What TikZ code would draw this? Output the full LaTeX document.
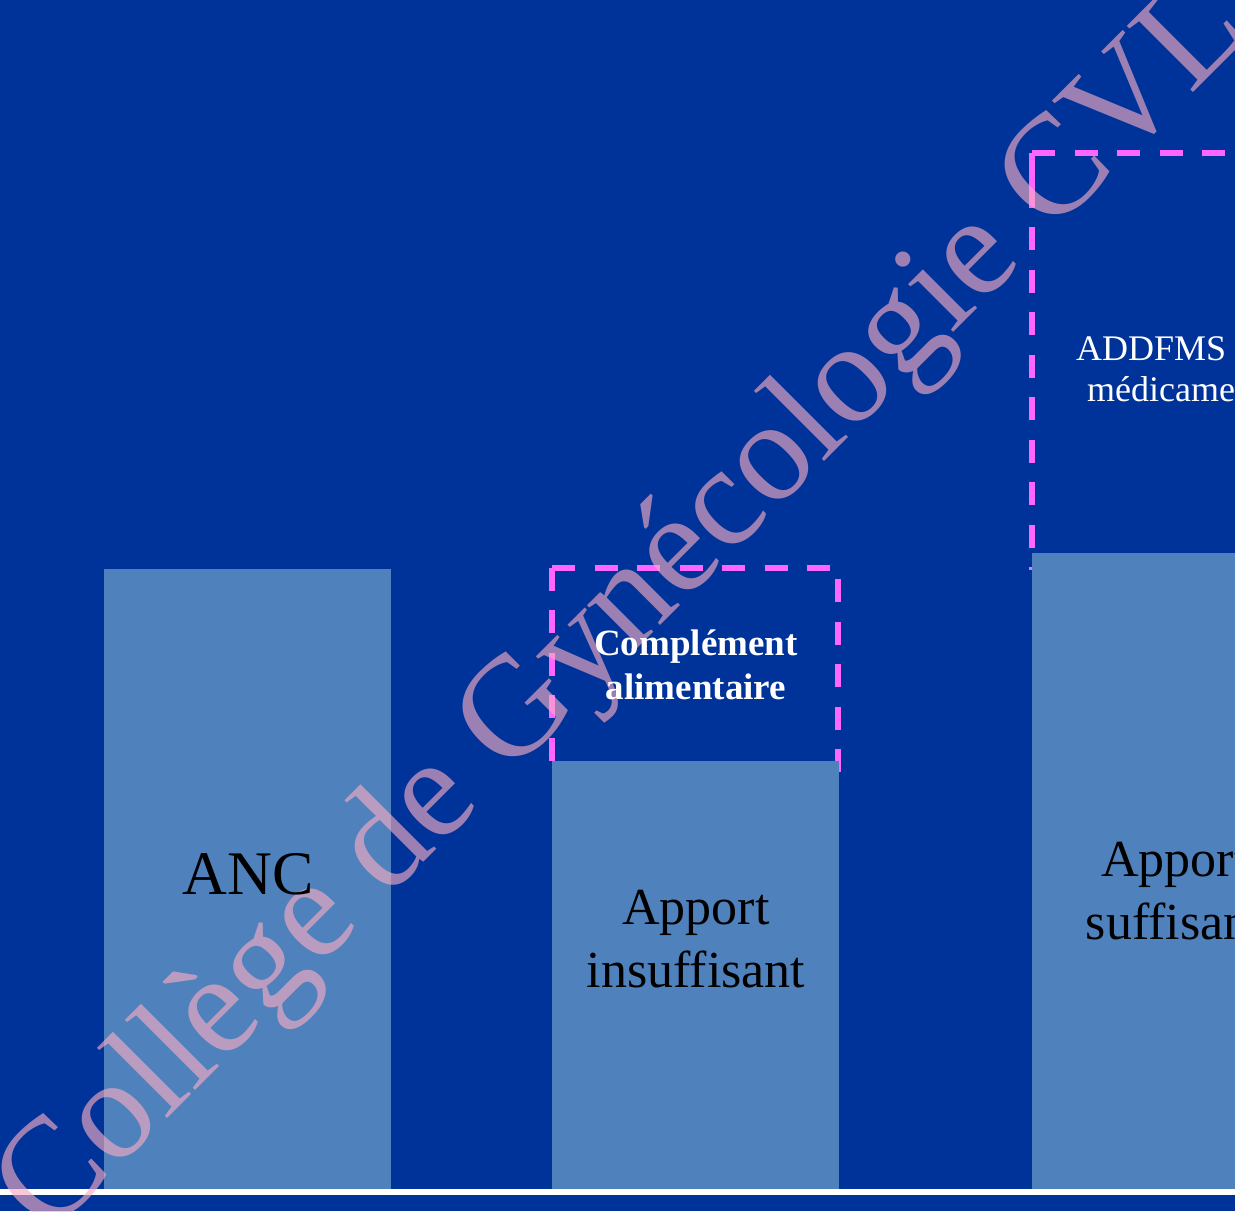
\documentclass[tikz,border=0pt]{standalone}
\usepackage{fontspec}
\setmainfont{Liberation Serif}
\definecolor{bgblue}{RGB}{0,51,153}
\definecolor{barblue}{RGB}{79,129,189}
\definecolor{dashpink}{RGB}{255,102,255}
\definecolor{wmpink}{RGB}{247,172,195}
\begin{document}
\begin{tikzpicture}[x=1pt,y=1pt,
  bar/.style={fill=barblue, draw=none},
  dbox/.style={draw=dashpink, line width=6pt, dash pattern=on 23pt off 19.5pt},
  dsolid/.style={draw=dashpink, line width=6pt},
  barlbl/.style={inner sep=0pt, anchor=base, text=black, font=\fontsize{52}{63}\selectfont},
  anclbl/.style={inner sep=0pt, anchor=base, text=black, font=\fontsize{62}{70}\selectfont},
  boldlbl/.style={inner sep=0pt, anchor=base, text=white, font=\fontsize{37}{44}\selectfont\bfseries},
  whitelbl/.style={inner sep=0pt, anchor=base, text=white, font=\fontsize{36}{41}\selectfont},
  wmark/.style={inner sep=0pt, anchor=base west, rotate=45, text=wmpink, opacity=0.64, font=\fontsize{143}{143}\selectfont}
]
\useasboundingbox (0,0) rectangle (1235,1211);
\clip (0,0) rectangle (1235,1211);
\fill[bgblue] (0,0) rectangle (1235,1211);
% dashed boxes
\draw[dbox] (552,643) -- (838,643) -- (838,433) -- (552,433);
\draw[dbox] (552,643) -- (552,433);
\draw[dbox] (1032,1058) -- (1319,1058) -- (1319,641);
\draw[dsolid] (1032,1058) -- (1032,1003);
\draw[dbox] (1032,983.5) -- (1032,641);
% bars
\fill[bar] (104,22) rectangle (391,642);
\fill[bar] (552,22) rectangle (839,450);
\fill[bar] (1032,22) rectangle (1319,658);
% base line
\fill[white] (0,16) rectangle (1235,22);
% watermark
\node[wmark] (wm) at (47.4,-27.6) {Collège de Gynécologie CVL};
% texts
\node[anclbl] (anc) at (248,316) {ANC};
\node[barlbl] (ins1) at (696,286) {Apport};
\node[barlbl] (ins2) at (696,223) {insuffisant};
\node[boldlbl] (comp1) at (696,555) {Complément};
\node[boldlbl] (comp2) at (696,511) {alimentaire};
\node[whitelbl, anchor=base west] (add1) at (1076,850) {ADDFMS};
\node[whitelbl] (add2) at (1175,809) {médicament};
\node[barlbl] (suf1) at (1175,334) {Apport};
\node[barlbl] (suf2) at (1175,271) {suffisant};
\end{tikzpicture}
\end{document}
